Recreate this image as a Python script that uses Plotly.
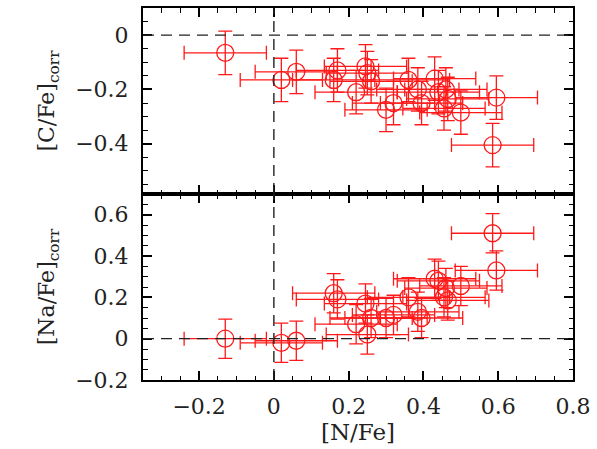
import plotly.graph_objects as go
from plotly.subplots import make_subplots

# [N/Fe] for each star
n_fe = [-0.13, 0.02, 0.06, 0.16, 0.17, 0.22, 0.245, 0.25, 0.26, 0.30, 0.32,
        0.36, 0.385, 0.395, 0.43, 0.44, 0.455, 0.46, 0.465, 0.50, 0.585, 0.595]
# [C/Fe]corr
c_fe = [-0.065, -0.165, -0.135, -0.165, -0.13, -0.21, -0.115, -0.14, -0.17, -0.275, -0.25,
        -0.165, -0.20, -0.25, -0.16, -0.21, -0.27, -0.20, -0.235, -0.285, -0.405, -0.23]
# [Na/Fe]corr
na_fe = [0.00, -0.02, -0.01, 0.22, 0.19, 0.07, 0.17, 0.02, 0.10, 0.10, 0.115,
         0.20, 0.13, 0.10, 0.29, 0.28, 0.20, 0.245, 0.185, 0.255, 0.51, 0.33]
# uncertainties
n_err = [0.11] * len(n_fe)
c_err = [0.08] * len(n_fe)
na_err = [0.095] * len(n_fe)

x_ticks = [-0.2, 0, 0.2, 0.4, 0.6, 0.8]
x_labels = ["\u22120.2", "0", "0.2", "0.4", "0.6", "0.8"]
c_ticks = [0, -0.2, -0.4]
c_labels = ["0", "\u22120.2", "\u22120.4"]
na_ticks = [-0.2, 0, 0.2, 0.4, 0.6]
na_labels = ["\u22120.2", "0", "0.2", "0.4", "0.6"]

RED = "rgb(255,25,25)"
FONT = "DejaVu Serif"

fig = make_subplots(rows=2, cols=1, shared_xaxes=True, vertical_spacing=0)

def add_series(y, yerr, row):
    fig.add_trace(go.Scatter(
        x=n_fe, y=y, mode="markers",
        marker=dict(symbol="circle-open", size=17, color=RED, line=dict(width=1.3, color=RED)),
        error_x=dict(type="data", array=n_err, color=RED, thickness=1.3, width=7),
        error_y=dict(type="data", array=yerr, color=RED, thickness=1.3, width=7),
        showlegend=False), row=row, col=1)

add_series(c_fe, c_err, 1)
add_series(na_fe, na_err, 2)

for r in (1, 2):
    fig.add_hline(y=0, line=dict(color="#222", width=1.4, dash="11px,7px"), row=r, col=1)
    fig.add_vline(x=0, line=dict(color="#222", width=1.4, dash="11px,7px"), row=r, col=1)

axis_common = dict(showline=True, linecolor="black", linewidth=2, mirror="ticks",
                   ticks="inside", ticklen=9, tickwidth=1.5, tickcolor="black",
                   showgrid=False, zeroline=False,
                   minor=dict(ticks="inside", ticklen=4.5, tickwidth=1.2, tickcolor="black",
                              dtick=0.05, showgrid=False),
                   tickfont=dict(family=FONT, size=22, color="#222"))

fig.update_xaxes(**axis_common, range=[-0.35, 0.8], tickvals=x_ticks, ticktext=x_labels)
fig.update_xaxes(showticklabels=False, row=1, col=1)
fig.update_xaxes(row=2, col=1, ticklabelstandoff=6,
                 title=dict(text="[N/Fe]", font=dict(family=FONT, size=23, color="#222"), standoff=4))
fig.update_yaxes(**axis_common)
fig.update_yaxes(row=1, col=1, range=[-0.585, 0.1], tickvals=c_ticks, ticktext=c_labels,
                 ticklabelstandoff=8,
                 title=dict(text="[C/Fe]<sub>corr</sub>", font=dict(family=FONT, size=22, color="#222"), standoff=14))
fig.update_yaxes(row=2, col=1, range=[-0.2, 0.7], tickvals=na_ticks, ticktext=na_labels,
                 ticklabelstandoff=8,
                 title=dict(text="[Na/Fe]<sub>corr</sub>", font=dict(family=FONT, size=22, color="#222"), standoff=14))

fig.update_layout(width=597, height=449, margin=dict(l=143, r=20, t=6, b=69),
                  plot_bgcolor="white", paper_bgcolor="white")

fig.write_html("out.html")
